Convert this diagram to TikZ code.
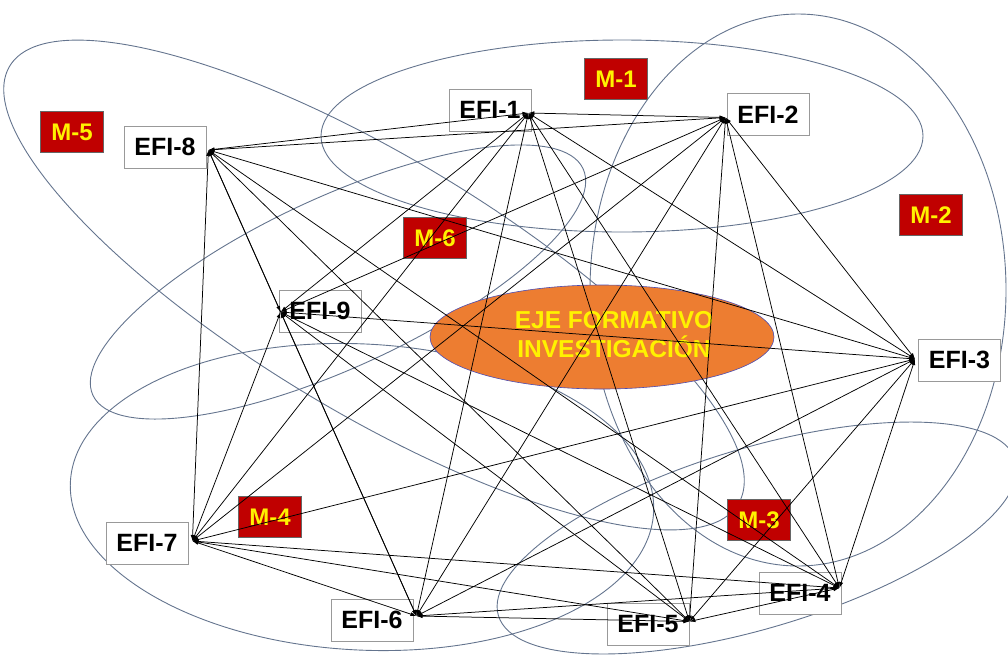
\documentclass[tikz,border=0pt]{standalone}
\usepackage{fontspec}
\setmainfont{Liberation Sans}
\usetikzlibrary{arrows.meta,shapes.geometric}

\definecolor{modred}{RGB}{192,0,0}
\definecolor{ejeorange}{RGB}{237,125,49}
\definecolor{ringcol}{RGB}{100,116,142}

\tikzset{
  efi/.style={draw=gray!80, fill=white, line width=0.8pt, minimum width=82pt,
    minimum height=42pt, inner sep=0pt, font=\fontsize{25}{25}\selectfont\bfseries},
  modbox/.style={draw=gray!80!black, fill=modred, minimum width=63pt,
    minimum height=41pt, inner sep=0pt, text=yellow,
    font=\fontsize{24}{24}\selectfont\bfseries},
  ring/.style={draw=ringcol, line width=0.9pt},
  link/.style={{Latex[length=6pt,width=4pt]}-{Latex[length=6pt,width=4pt]},
    line width=0.75pt, black},
}

\begin{document}
\begin{tikzpicture}[x=1pt,y=-1pt]
\useasboundingbox (0,0) rectangle (1008,662);

  %% module rings
  \draw[ring] (622,136) ellipse[x radius=301pt, y radius=96pt]; %% M-1
  \draw[ring] (798,290) ellipse[x radius=208pt, y radius=276pt]; %% M-2
  \draw[ring, rotate around={16.7:(757,538)}]
    (757,538) ellipse[x radius=270pt, y radius=90pt]; %% M-3
  \draw[ring, rotate around={-3:(362,497)}]
    (362,497) ellipse[x radius=292pt, y radius=153pt]; %% M-4
  \draw[ring, rotate around={-31:(374,285)}]
    (374,285) ellipse[x radius=425pt, y radius=128pt]; %% M-5
  \draw[ring, rotate around={24.8:(338,282)}]
    (338,282) ellipse[x radius=270pt, y radius=85pt]; %% M-6

  %% central axis
  \node[ellipse, fill=ejeorange, draw=blue!40!gray, line width=0.6pt,
    minimum width=344pt, minimum height=104pt, inner sep=0pt] (eje) at (602,337) {};
  \node[align=center, text=yellow, font=\fontsize{24.5}{29}\selectfont\bfseries]
    (ejetxt) at ([xshift=12pt,yshift=2.5pt]eje.center) {EJE FORMATIVO\\INVESTIGACIÓN};

  %% EFI boxes
  \node[efi] (e1) at (490,110)   {EFI-1};
  \node[efi] (e2) at (768,114.5) {EFI-2};
  \node[efi] (e3) at (959.5,360) {EFI-3};
  \node[efi] (e4) at (800,593)   {EFI-4};
  \node[efi] (e5) at (648,624.5) {EFI-5};
  \node[efi] (e6) at (372,620)   {EFI-6};
  \node[efi] (e7) at (147,543)   {EFI-7};
  \node[efi] (e8) at (165,147)   {EFI-8};
  \node[efi] (e9) at (320,311)   {EFI-9};

  %% module labels
  \node[modbox] (m1) at (616,79)  {M-1};
  \node[modbox] (m2) at (931,215) {M-2};
  \node[modbox] (m3) at (759,520) {M-3};
  \node[modbox] (m4) at (270,517) {M-4};
  \node[modbox] (m5) at (72,132)  {M-5};
  \node[modbox] (m6) at (435,238) {M-6};

  %% hubs where the arrows meet
  \coordinate (h1) at ([shift={(-3,3)}]e1.east);
  \coordinate (h2) at ([shift={(-1,3)}]e2.west);
  \coordinate (h3) at ([shift={(-3,-1)}]e3.west);
  \coordinate (h4) at ([shift={(-2,-5)}]e4.east);
  \coordinate (h5) at ([shift={(0,-3)}]e5.east);
  \coordinate (h6) at ([shift={(3,-4)}]e6.east);
  \coordinate (h7) at ([shift={(4,-2)}]e7.east);
  \coordinate (h8) at ([shift={(2,3)}]e8.east);
  \coordinate (h9) at ([shift={(2,1)}]e9.west);

  %% every EFI to every EFI
  \foreach \i in {1,...,8}{
    \pgfmathtruncatemacro\nxt{\i+1}
    \foreach \j in {\nxt,...,9}
      \draw[link] (h\i) -- (h\j);
  }

\end{tikzpicture}
\end{document}
